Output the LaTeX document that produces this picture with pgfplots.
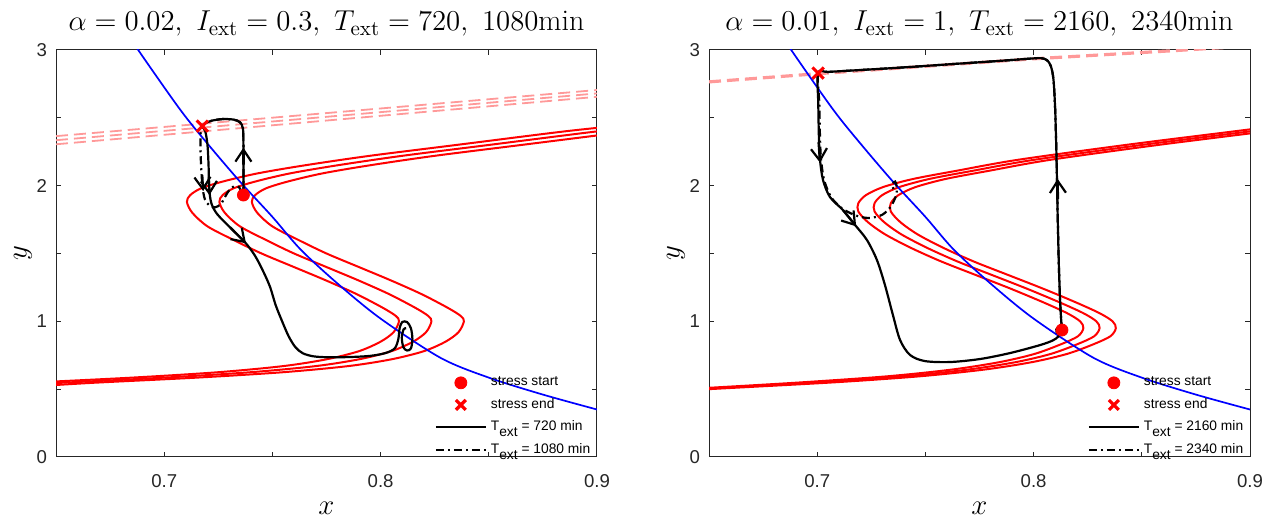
\documentclass[border=0pt]{standalone}
\usepackage{fontspec}
\usepackage{pgfplots}
\pgfplotsset{compat=1.18}
\usetikzlibrary{arrows.meta}
\newfontfamily\arial{Liberation Sans}
\newcommand\sub[1]{\raisebox{-2.8pt}{#1}}
\definecolor{pinkd}{rgb}{1,0.6,0.6}
\definecolor{axgray}{rgb}{0.15,0.15,0.15}
\pgfplotsset{
  myaxis/.style={
    scale only axis, width=270.5pt, height=203.5pt,
    xmin=0.65, xmax=0.9, ymin=0, ymax=3,
    xtick={0.65,0.7,0.75,0.8,0.85,0.9}, xticklabels={,0.7,,0.8,,0.9},
    ytick={0,0.5,1,1.5,2,2.5,3}, yticklabels={0,,1,,2,,3},
    tick align=inside, major tick length=2.5pt,
    axis line style={axgray, line width=0.5pt},
    every tick/.style={axgray, line width=0.5pt},
    ticklabel style={font=\arial\fontsize{9.3}{11}\selectfont, text=axgray},
    xticklabel style={yshift=-5pt},
    yticklabel style={xshift=-1pt},
    title style={at={(axis description cs:0.5,1)}, anchor=base, yshift=3.5pt, font=\fontsize{15}{18}\selectfont},
    xlabel style={at={(axis description cs:0.5,-0.125)}, anchor=center, inner sep=0pt, font=\fontsize{14}{16}\selectfont},
    ylabel style={at={(axis description cs:-0.061,0.5)}, anchor=center, font=\fontsize{14}{16}\selectfont},
    xlabel={$x$}, ylabel={$y$},
    legend style={at={(axis description cs:1,0)}, anchor=south east, yshift=-2pt, draw=none, fill=none,
      font=\arial\fontsize{6.9}{8}\selectfont, row sep=0.8pt, inner xsep=1.2pt, inner ysep=0pt},
    legend cell align=left,
    legend image code/.code={\draw[mark repeat=2,mark phase=2,#1] plot coordinates {(0pt,0pt)(12.5pt,0pt)(25pt,0pt)};},
  },
  redc/.style={red, line width=1pt, smooth, forget plot},
  bluec/.style={blue, line width=0.85pt, smooth, forget plot},
  pinkc/.style={pinkd, line width=1.6pt, dash pattern=on 6pt off 3pt, forget plot},
  pinkt/.style={pinkd, line width=0.9pt, dash pattern=on 6pt off 3pt, forget plot},
  solidtr/.style={black, line width=1.1pt, smooth, tension=0.5, forget plot},
  dashtr/.style={black, line width=1.1pt, smooth, tension=0.5, dash pattern=on 4pt off 2pt on 1pt off 2pt, forget plot},
  arr/.style={black, line width=1.1pt, -{Straight Barb[length=6pt,width=8pt]}, forget plot},
  startm/.style={only marks, mark=*, mark size=3pt, red},
  endm/.style={only marks, mark=x, mark size=4pt, red, line width=1.5pt},
  lgstart/.style={only marks, mark=*, mark size=3pt, red},
  lgend/.style={only marks, mark=x, mark size=3.5pt, red, line width=1.6pt},
  lgsolid/.style={black, line width=1pt},
  lgdash/.style={black, line width=1pt, dash pattern=on 4pt off 2pt on 1pt off 2pt},
}
\begin{document}
\begin{tikzpicture}
\useasboundingbox (0,0) rectangle (632.5pt,259.5pt);
% ---------------- left panel ----------------
\begin{axis}[myaxis, at={(28pt,31pt)}, anchor=south west,
  title={$\alpha = 0.02,\ I_{\mathrm{ext}} = 0.3,\ T_{\mathrm{ext}} = 720,\ 1080\mathrm{min}$}]
\addplot[pinkt] coordinates {(0.65,2.365) (0.9,2.705)};
\addplot[pinkt] coordinates {(0.65,2.335) (0.9,2.68)};
\addplot[pinkt] coordinates {(0.65,2.305) (0.9,2.655)};
\addplot[redc] coordinates {(0.61,0.52) (0.635,0.545) (0.685,0.585) (0.725,0.625) (0.755,0.67) (0.775,0.72) (0.79,0.78) (0.80,0.85) (0.806,0.92) (0.8085,1.0) (0.807,1.04) (0.801,1.10) (0.789,1.20) (0.775,1.30) (0.76,1.40) (0.745,1.50) (0.732,1.60) (0.72,1.70) (0.713,1.80) (0.7105,1.88) (0.712,1.93) (0.717,1.98) (0.727,2.03) (0.743,2.09) (0.765,2.15) (0.795,2.22) (0.835,2.30) (0.885,2.40) (0.915,2.45)};
\addplot[redc] coordinates {(0.62,0.52) (0.65,0.545) (0.70,0.585) (0.74,0.625) (0.77,0.67) (0.79,0.72) (0.805,0.78) (0.815,0.85) (0.821,0.92) (0.8235,1.0) (0.822,1.04) (0.816,1.10) (0.804,1.20) (0.790,1.30) (0.775,1.40) (0.760,1.50) (0.747,1.60) (0.735,1.70) (0.728,1.80) (0.7255,1.88) (0.727,1.93) (0.732,1.98) (0.742,2.03) (0.758,2.09) (0.78,2.15) (0.81,2.22) (0.85,2.30) (0.9,2.40) (0.93,2.45)};
\addplot[redc] coordinates {(0.63,0.51) (0.665,0.545) (0.715,0.585) (0.755,0.625) (0.785,0.67) (0.805,0.72) (0.82,0.78) (0.83,0.85) (0.836,0.92) (0.8385,1.0) (0.837,1.04) (0.831,1.10) (0.819,1.20) (0.805,1.30) (0.79,1.40) (0.775,1.50) (0.762,1.60) (0.75,1.70) (0.743,1.80) (0.7405,1.88) (0.742,1.93) (0.747,1.98) (0.757,2.03) (0.773,2.09) (0.795,2.15) (0.825,2.22) (0.865,2.30) (0.915,2.40)};
\addplot[bluec] coordinates {(0.68,3.2) (0.688,3.0) (0.7074,2.56) (0.72,2.31) (0.735,2.03) (0.75,1.77) (0.763,1.53) (0.78,1.28) (0.80,1.02) (0.8278,0.73) (0.85,0.585) (0.875,0.46) (0.9,0.35)};
\addplot[solidtr] coordinates {(0.7366,1.931) (0.7366,2.10) (0.7366,2.30) (0.7364,2.42) (0.7350,2.468) (0.7320,2.487) (0.7270,2.491) (0.7220,2.479) (0.7190,2.460) (0.7176,2.439) (0.7190,2.40) (0.7200,2.30) (0.7205,2.15) (0.7208,1.98) (0.7218,1.87) (0.7245,1.79) (0.7306,1.69) (0.7375,1.58) (0.7421,1.48) (0.7460,1.36) (0.7490,1.25) (0.7515,1.12) (0.7545,1.00) (0.7575,0.89) (0.7606,0.81) (0.7640,0.765) (0.7690,0.742) (0.7760,0.735) (0.7860,0.737) (0.7950,0.745) (0.8020,0.765) (0.8065,0.80) (0.8082,0.87) (0.8088,0.95) (0.8100,0.995) (0.8122,0.995) (0.8140,0.95) (0.8147,0.87) (0.8140,0.80) (0.8122,0.785) (0.8105,0.81) (0.8098,0.88) (0.8106,0.94) (0.8118,0.95)};
\addplot[dashtr] coordinates {(0.7366,1.931) (0.7366,2.10) (0.7366,2.30) (0.7364,2.42) (0.7350,2.468) (0.7320,2.487) (0.7270,2.491) (0.7220,2.479) (0.7190,2.460) (0.7176,2.439) (0.7168,2.38) (0.7168,2.25) (0.7172,2.10) (0.7178,1.98) (0.7188,1.90) (0.7208,1.855) (0.7235,1.84) (0.7262,1.865) (0.7282,1.92) (0.7302,1.97) (0.7325,1.997) (0.7345,1.99) (0.7356,1.96) (0.7363,1.935)};
\addplot[arr] coordinates {(0.7366,2.16) (0.7366,2.28)};
\addplot[arr] coordinates {(0.7206,2.06) (0.7209,1.93)};
\addplot[arr] coordinates {(0.7176,2.08) (0.7180,1.96)};
\addplot[arr] coordinates {(0.7306,1.69) (0.7378,1.575)};
\addplot[startm, forget plot] coordinates {(0.7366,1.931)};
\addplot[endm, forget plot] coordinates {(0.7176,2.439)};
\addlegendimage{lgstart}
\addlegendentry{stress start}
\addlegendimage{lgend}
\addlegendentry{stress end}
\addlegendimage{lgsolid}
\addlegendentry{T\sub{ext} = 720 min}
\addlegendimage{lgdash}
\addlegendentry{T\sub{ext} = 1080 min}
\end{axis}
% ---------------- right panel ----------------
\begin{axis}[myaxis, at={(354.5pt,31pt)}, anchor=south west,
  title={$\alpha = 0.01,\ I_{\mathrm{ext}} = 1,\ T_{\mathrm{ext}} = 2160,\ 2340\mathrm{min}$}]
\addplot[pinkc] coordinates {(0.65,2.765) (0.70,2.825) (0.75,2.88) (0.80,2.935) (0.87,3.0) (0.9,3.03)};
\addplot[redc] coordinates {(0.60,0.465) (0.65,0.51) (0.6925,0.55) (0.7325,0.595) (0.7625,0.645) (0.7845,0.70) (0.8005,0.76) (0.8125,0.83) (0.8205,0.89) (0.823,0.95) (0.8215,1.00) (0.8155,1.06) (0.8045,1.14) (0.7895,1.24) (0.7735,1.34) (0.7575,1.44) (0.7435,1.54) (0.7315,1.64) (0.7235,1.73) (0.719,1.81) (0.719,1.87) (0.7225,1.93) (0.7305,1.99) (0.7445,2.05) (0.7645,2.11) (0.7925,2.19) (0.8425,2.30) (0.8925,2.40) (0.9225,2.46)};
\addplot[redc] coordinates {(0.60,0.46) (0.65,0.505) (0.70,0.55) (0.74,0.595) (0.77,0.645) (0.792,0.70) (0.808,0.76) (0.82,0.83) (0.828,0.89) (0.8305,0.95) (0.829,1.00) (0.823,1.06) (0.812,1.14) (0.797,1.24) (0.781,1.34) (0.765,1.44) (0.751,1.54) (0.739,1.64) (0.731,1.73) (0.7265,1.81) (0.7265,1.87) (0.73,1.93) (0.738,1.99) (0.752,2.05) (0.772,2.11) (0.80,2.19) (0.85,2.30) (0.9,2.40) (0.93,2.46)};
\addplot[redc] coordinates {(0.60,0.455) (0.65,0.50) (0.7075,0.55) (0.7475,0.595) (0.7775,0.645) (0.7995,0.70) (0.8155,0.76) (0.8275,0.83) (0.8355,0.89) (0.838,0.95) (0.8365,1.00) (0.8305,1.06) (0.8195,1.14) (0.8045,1.24) (0.7885,1.34) (0.7725,1.44) (0.7585,1.54) (0.7465,1.64) (0.7385,1.73) (0.734,1.81) (0.734,1.87) (0.7375,1.93) (0.7455,1.99) (0.7595,2.05) (0.7795,2.11) (0.8075,2.19) (0.8575,2.30) (0.9075,2.40) (0.9375,2.46)};
\addplot[bluec] coordinates {(0.68,3.2) (0.688,3.0) (0.7074,2.56) (0.72,2.31) (0.735,2.03) (0.75,1.77) (0.763,1.53) (0.78,1.28) (0.80,1.02) (0.8278,0.73) (0.85,0.585) (0.875,0.46) (0.9,0.35)};
\addplot[solidtr] coordinates {(0.8131,0.936) (0.8124,1.10) (0.8117,1.40) (0.8111,1.80) (0.8106,2.20) (0.8100,2.55) (0.8092,2.78) (0.8080,2.88) (0.8062,2.925) (0.8035,2.94) (0.7990,2.937) (0.7845,2.920) (0.7614,2.895) (0.7383,2.870) (0.7152,2.848) (0.7050,2.838) (0.7004,2.830) (0.7005,2.60) (0.7008,2.35) (0.7013,2.19) (0.7027,2.041) (0.7059,1.916) (0.7119,1.820) (0.7175,1.710) (0.7230,1.599) (0.7276,1.452) (0.7313,1.268) (0.7350,1.046) (0.7383,0.862) (0.7429,0.752) (0.7498,0.707) (0.7614,0.700) (0.7752,0.722) (0.7891,0.766) (0.8030,0.825) (0.8090,0.86) (0.8115,0.89) (0.8125,0.93) (0.8118,0.955) (0.8105,0.94) (0.8108,0.91)};
\addplot[dashtr] coordinates {(0.8131,0.936) (0.8124,1.10) (0.8117,1.40) (0.8111,1.80) (0.8106,2.20) (0.8100,2.55) (0.8092,2.78) (0.8080,2.88) (0.8062,2.925) (0.8035,2.94) (0.7990,2.937) (0.7845,2.920) (0.7614,2.895) (0.7383,2.870) (0.7152,2.848) (0.7050,2.838) (0.7004,2.830) (0.7010,2.60) (0.7013,2.35) (0.7018,2.19) (0.7032,2.041) (0.7064,1.916) (0.7110,1.838) (0.7150,1.80) (0.7195,1.772) (0.7244,1.762) (0.7300,1.785) (0.7340,1.845) (0.7365,1.93) (0.7368,1.99) (0.7360,2.03) (0.7348,2.01) (0.7352,1.975)};
\addplot[arr] coordinates {(0.8113,1.90) (0.8111,2.05)};
\addplot[arr] coordinates {(0.7006,2.32) (0.7013,2.17)};
\addplot[arr] coordinates {(0.7119,1.820) (0.7180,1.70)};
\addplot[startm, forget plot] coordinates {(0.8131,0.936)};
\addplot[endm, forget plot] coordinates {(0.7004,2.830)};
\addlegendimage{lgstart}
\addlegendentry{stress start}
\addlegendimage{lgend}
\addlegendentry{stress end}
\addlegendimage{lgsolid}
\addlegendentry{T\sub{ext} = 2160 min}
\addlegendimage{lgdash}
\addlegendentry{T\sub{ext} = 2340 min}
\end{axis}
\end{tikzpicture}
\end{document}
